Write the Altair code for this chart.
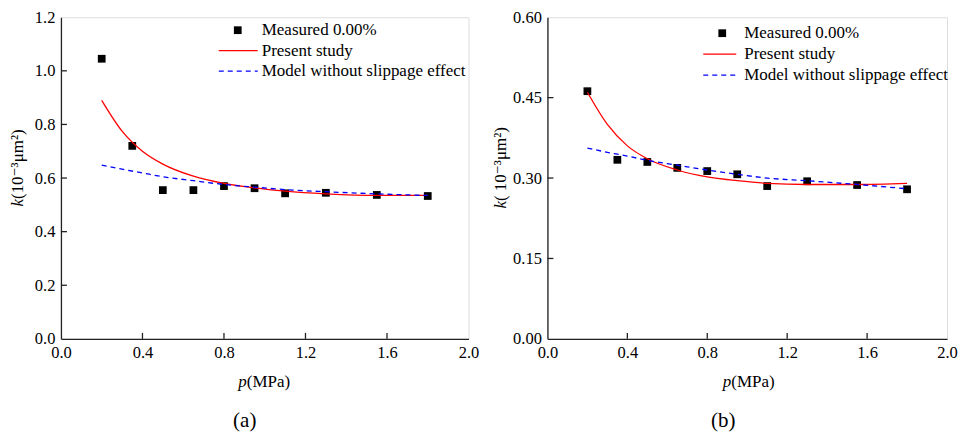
import altair as alt
import pandas as pd

# ---------------- data ----------------
p_meas = [0.2, 0.35, 0.5, 0.65, 0.8, 0.95, 1.1, 1.3, 1.55, 1.8]
k_meas_a = [1.045, 0.72, 0.555, 0.555, 0.57, 0.562, 0.543, 0.545, 0.537, 0.533]
k_meas_b = [0.462, 0.334, 0.330, 0.319, 0.313, 0.307, 0.285, 0.294, 0.287, 0.279]

p_curve = [0.2, 0.3, 0.4, 0.5, 0.65, 0.8, 0.95, 1.1, 1.3, 1.55, 1.8]
k_present_a = [0.890, 0.775, 0.700, 0.652, 0.607, 0.580, 0.563, 0.551, 0.541, 0.535, 0.535]
k_noslip_a = [0.648, 0.633, 0.619, 0.605, 0.590, 0.576, 0.566, 0.557, 0.549, 0.541, 0.535]
k_present_b = [0.460, 0.400, 0.360, 0.336, 0.315, 0.302, 0.295, 0.290, 0.288, 0.288, 0.290]
k_noslip_b = [0.356, 0.348, 0.341, 0.333, 0.324, 0.315, 0.307, 0.300, 0.295, 0.288, 0.280]

x_ticks = [0.4, 0.8, 1.2, 1.6]
y_ticks_a = [0.2, 0.4, 0.6, 0.8, 1.0]
y_ticks_b = [0.15, 0.30, 0.45]

legend_labels = ["Measured 0.00%", "Present study", "Model without slippage effect"]

FONT = "'Times New Roman', 'Liberation Serif', 'DejaVu Serif', serif"
W_A, W_B, H = 408, 400, 322
FS = 17
LFS = 16.5


def panel(width, k_meas, k_present, k_noslip, ymax, ystep, yfmt, y_ticks,
          ytitle_rest, yt_x, yt_y, xt_x, caption, cap_x, leg):
    xs = alt.Scale(domain=[0, 2.0], nice=False)
    ys = alt.Scale(domain=[0, ymax], nice=False)
    n_y = int(round(ymax / ystep))
    y_vals = [round(i * ystep, 4) for i in range(n_y + 1)]

    meas = pd.DataFrame({"p": p_meas, "k": k_meas})
    curves = pd.DataFrame({"p": p_curve, "present": k_present, "noslip": k_noslip})

    xaxis = alt.Axis(values=[0.0, 0.4, 0.8, 1.2, 1.6, 2.0], format=".1f", title=None,
                     tickSize=0, grid=False, domainColor="#222", domainWidth=1.3,
                     labelFlush=False, labelOverlap=False,
                     labelFont=FONT, labelFontSize=LFS, labelColor="black", labelPadding=6)
    yaxis = alt.Axis(values=y_vals, format=yfmt, title=None, tickSize=0, grid=False,
                     domainColor="#222", domainWidth=1.3, labelFont=FONT, labelFontSize=LFS,
                     labelFlush=False, labelOverlap=False,
                     labelColor="black", labelPadding=6)

    base = alt.Chart(meas)
    pts = base.mark_point(shape="square", filled=True, color="black", size=60, opacity=1).encode(
        x=alt.X("p:Q", scale=xs, axis=xaxis),
        y=alt.Y("k:Q", scale=ys, axis=yaxis),
    )
    red = alt.Chart(curves).mark_line(color="red", strokeWidth=1.3, interpolate="monotone").encode(
        x=alt.X("p:Q", scale=xs), y=alt.Y("present:Q", scale=ys))
    blue = alt.Chart(curves).mark_line(color="blue", strokeWidth=1.3, strokeDash=[5, 4],
                                       interpolate="monotone").encode(
        x=alt.X("p:Q", scale=xs), y=alt.Y("noslip:Q", scale=ys))

    # inward tick marks
    xt = alt.Chart(pd.DataFrame({"t": x_ticks})).mark_rule(color="#222", strokeWidth=1.3).encode(
        x=alt.X("t:Q", scale=xs), y=alt.value(H), y2=alt.value(H - 6))
    yt = alt.Chart(pd.DataFrame({"t": y_ticks})).mark_rule(color="#222", strokeWidth=1.3).encode(
        y=alt.Y("t:Q", scale=ys), x=alt.value(0), x2=alt.value(6))

    one = alt.Chart(pd.DataFrame({"a": [0]}))

    def txt(s, x, y, **kw):
        return one.mark_text(font=FONT, fontSize=FS, color="black", **kw).encode(
            x=alt.value(x), y=alt.value(y), text=alt.value(s))

    # axis titles with italic variable names
    texts = [
        txt("k", yt_x, yt_y, angle=270, align="right", baseline="middle", fontStyle="italic"),
        txt(ytitle_rest, yt_x, yt_y, angle=270, align="left", baseline="middle"),
        txt("p", xt_x, H + 43, align="right", baseline="middle", fontStyle="italic"),
        txt("(MPa)", xt_x, H + 43, align="left", baseline="middle"),
        one.mark_text(font=FONT, fontSize=21, color="black", align="center", baseline="middle").encode(
            x=alt.value(cap_x), y=alt.value(H + 82), text=alt.value(caption)),
    ]

    # legend
    sq_x, txt_x, ln_x1, ln_x2, y1, dy = leg
    leg_layers = [
        one.mark_point(shape="square", filled=True, color="black", size=60, opacity=1).encode(
            x=alt.value(sq_x), y=alt.value(y1)),
        one.mark_rule(color="red", strokeWidth=1.3).encode(
            x=alt.value(ln_x1), x2=alt.value(ln_x2), y=alt.value(y1 + dy)),
        one.mark_rule(color="blue", strokeWidth=1.3, strokeDash=[5, 4]).encode(
            x=alt.value(ln_x1), x2=alt.value(ln_x2), y=alt.value(y1 + 2 * dy)),
        txt(legend_labels[0], txt_x, y1, align="left", baseline="middle"),
        txt(legend_labels[1], txt_x, y1 + dy, align="left", baseline="middle"),
        txt(legend_labels[2], txt_x, y1 + 2 * dy, align="left", baseline="middle"),
    ]

    return alt.layer(pts, red, blue, xt, yt, *texts, *leg_layers).properties(width=width, height=H)


left = panel(W_A, k_meas_a, k_present_a, k_noslip_a, 1.2, 0.2, ".1f", y_ticks_a,
             "(10⁻³μm²)", -43, 182, 186, "(a)", 184, (177, 201, 158, 197, 13, 20.5))
right = panel(W_B, k_meas_b, k_present_b, k_noslip_b, 0.6, 0.15, ".2f", y_ticks_b,
              "( 10⁻³μm²)", -46, 184, 184, "(b)", 176, (175, 197, 156, 189, 16, 21))

chart = alt.hconcat(left, right, spacing=12).properties(padding=0).configure_view(
    stroke="#222", strokeWidth=1.3).configure(background="white")

chart.save("out.html", embed_options={"renderer": "svg", "actions": False})
